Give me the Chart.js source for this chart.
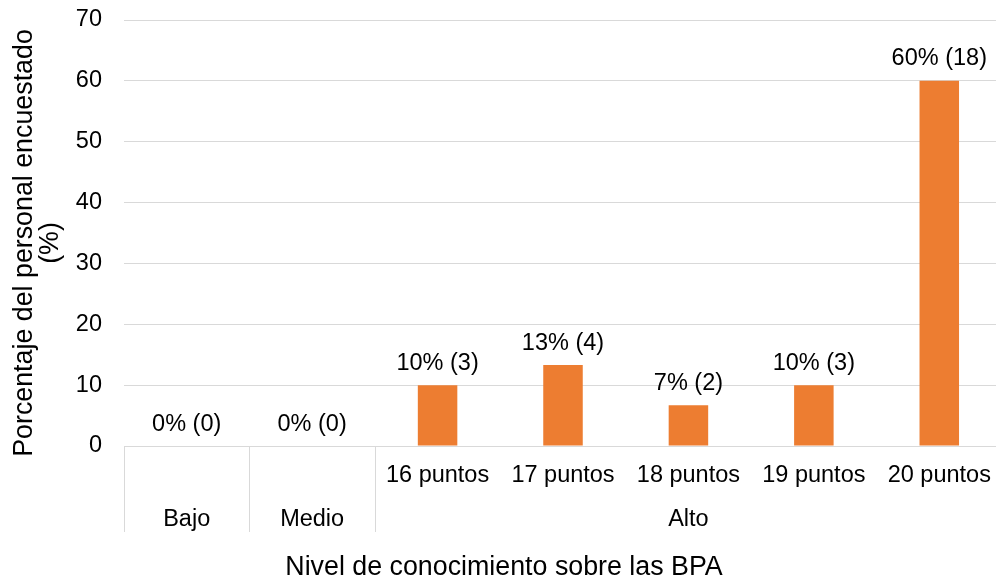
<!DOCTYPE html>
<html>
<head>
<meta charset="utf-8">
<script src="https://cdn.jsdelivr.net/npm/chart.js@4/dist/chart.umd.min.js"></script>
<style>
  html, body { margin: 0; padding: 0; background: #ffffff; overflow: hidden; }
  #wrap { width: 996px; height: 581px; position: relative; overflow: hidden; }
  canvas { display: block; }
</style>
</head>
<body>
<div id="wrap"><canvas id="c" width="1002" height="581"></canvas></div>
<script>
// ---- data ----
const subCategories = ['', '', '16 puntos', '17 puntos', '18 puntos', '19 puntos', '20 puntos'];
const groupLabels = ['Bajo', 'Medio', 'Alto'];
const groupStart = [0, 1, 2];
const groupEnd = [0, 1, 6];
const percentValues = [0, 0, 10, 13.3, 6.7, 10, 60];
const counts = [0, 0, 3, 4, 2, 3, 18];
const yTicks = [0, 10, 20, 30, 40, 50, 60, 70];
const xTitle = 'Nivel de conocimiento sobre las BPA';
const yTitle = ['Porcentaje del personal encuestado', '(%)'];

const FONT = '"Liberation Sans", Arial, sans-serif';
const TEXT = '#000000';
const GRID = '#D9D9D9';

const labelPlugin = {
  id: 'labelPlugin',
  afterDraw(chart) {
    const ctx = chart.ctx;
    const xs = chart.scales.x;
    const ca = chart.chartArea;
    const meta = chart.getDatasetMeta(0);
    const catW = (ca.right - ca.left) / subCategories.length;
    ctx.save();
    // data labels
    ctx.fillStyle = TEXT;
    ctx.font = '23.5px ' + FONT;
    ctx.textAlign = 'center';
    ctx.textBaseline = 'alphabetic';
    meta.data.forEach((bar, i) => {
      const txt = Math.round(percentValues[i]) + '% (' + counts[i] + ')';
      ctx.fillText(txt, bar.x, bar.y - 15.5);
    });
    // level-1 category labels
    subCategories.forEach((lab, i) => {
      if (lab) ctx.fillText(lab, xs.getPixelForValue(i), 482);
    });
    // level-2 group labels and separators
    ctx.strokeStyle = GRID;
    ctx.lineWidth = 1;
    groupLabels.forEach((g, k) => {
      const x0 = xs.getPixelForValue(groupStart[k]) - catW / 2;
      const x1 = xs.getPixelForValue(groupEnd[k]) + catW / 2;
      ctx.fillText(g, (x0 + x1) / 2, 526);
      ctx.beginPath();
      ctx.moveTo(Math.round(x0) + 0.5, ca.bottom);
      ctx.lineTo(Math.round(x0) + 0.5, 532);
      ctx.stroke();
    });
    // axis titles
    ctx.font = '26.8px ' + FONT;
    ctx.fillText(xTitle, 504, 575);
    const ys = [32, 58];
    yTitle.forEach((t, j) => {
      ctx.save();
      ctx.translate(ys[j], 243);
      ctx.rotate(-Math.PI / 2);
      ctx.fillText(t, 0, 0);
      ctx.restore();
    });
    ctx.restore();
  }
};

new Chart(document.getElementById('c'), {
  type: 'bar',
  data: {
    labels: subCategories.map((s, i) => s || groupLabels[i]),
    datasets: [{
      data: percentValues,
      backgroundColor: '#ED7D31',
      borderWidth: 0,
      categoryPercentage: 1,
      barPercentage: 0.315
    }]
  },
  options: {
    responsive: false,
    animation: false,
    devicePixelRatio: 1,
    layout: { padding: { top: 20, right: 0, left: 0, bottom: 0 } },
    plugins: { legend: { display: false }, tooltip: { enabled: false } },
    scales: {
      x: {
        grid: { display: false, drawTicks: false },
        border: { display: false },
        ticks: { display: false },
        afterFit(s) { s.height = 135; s.paddingLeft = 0; s.paddingRight = 0; s.paddingTop = 0; s.paddingBottom = 0; }
      },
      y: {
        min: 0,
        max: 70,
        afterBuildTicks(s) { s.ticks = yTicks.map(v => ({ value: v })); },
        grid: { color: GRID, lineWidth: 1, drawTicks: false },
        border: { display: false },
        ticks: {
          color: TEXT,
          font: { family: FONT, size: 23.5 },
          padding: 22
        },
        afterFit(s) { s.width = 124; s.paddingTop = 0; s.paddingBottom = 0; s.paddingLeft = 0; s.paddingRight = 0; }
      }
    }
  },
  plugins: [labelPlugin]
});
</script>
</body>
</html>
